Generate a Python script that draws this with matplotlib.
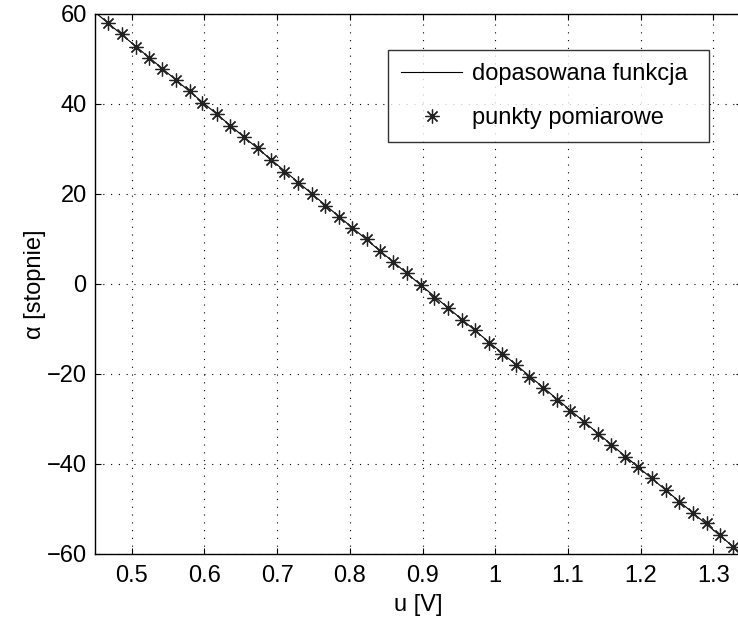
import matplotlib
matplotlib.use("Agg")
import matplotlib.pyplot as plt

plt.rcParams['font.family'] = ['Liberation Sans', 'DejaVu Sans']

# measured points: voltage u [V] and angle alpha [deg]
u_points = [0.4678, 0.4862, 0.5055, 0.5238, 0.5421, 0.5605, 0.5798, 0.5971,
            0.6173, 0.6352, 0.6549, 0.6733, 0.6912, 0.7099, 0.7292, 0.7476,
            0.7659, 0.7851, 0.8034, 0.8232, 0.8415, 0.8598, 0.8791, 0.8975,
            0.9158, 0.9351, 0.9539, 0.9727, 0.9911, 1.0089, 1.0282, 1.0469,
            1.0662, 1.0846, 1.1033, 1.1217, 1.1410, 1.1597, 1.1786, 1.1969,
            1.2157, 1.2345, 1.2532, 1.2717, 1.2909, 1.3092, 1.3275]
alpha_points = [57.9, 55.5, 52.7, 50.3, 47.8, 45.3, 42.8, 40.2,
                37.7, 35.1, 32.6, 30.2, 27.6, 24.8, 22.4, 19.9,
                17.3, 14.9, 12.4, 9.9, 7.3, 5.0, 2.4, -0.2,
                -3.0, -5.4, -7.9, -10.3, -13.0, -15.6, -18.1, -20.7,
                -23.2, -25.8, -28.2, -30.7, -33.3, -35.8, -38.4, -40.7,
                -43.1, -45.8, -48.4, -50.8, -53.2, -55.8, -58.4]

# fitted straight line (end points)
fit_u = [0.4495, 1.3393]
fit_alpha = [60.4, -60.0]

x_ticks = [0.5, 0.6, 0.7, 0.8, 0.9, 1.0, 1.1, 1.2, 1.3]
x_tick_labels = ['0.5', '0.6', '0.7', '0.8', '0.9', '1', '1.1', '1.2', '1.3']
y_ticks = [-60, -40, -20, 0, 20, 40, 60]

FS = 17

fig = plt.figure(figsize=(7.38, 6.19), dpi=100)
ax = fig.add_axes([95 / 738, 65 / 619, 647 / 738, 540 / 619])

ax.plot(fit_u, fit_alpha, color='black', linewidth=0.8, label='dopasowana funkcja')
ax.plot(u_points, alpha_points, linestyle='none', marker=(8, 2, 0), markersize=10,
        markeredgewidth=0.9, color='#222222', label='punkty pomiarowe')

ax.set_xlim(fit_u[0], fit_u[1])
ax.set_ylim(-60, 60)
ax.set_xticks(x_ticks)
ax.set_xticklabels(x_tick_labels)
ax.set_yticks(y_ticks)
ax.yaxis.set_major_formatter(matplotlib.ticker.FuncFormatter(lambda v, p: f'{v:.0f}'.replace('-', '\u2212')))

ax.grid(True, color='black', linestyle=(0, (1, 6)), linewidth=0.8)
ax.tick_params(direction='in', length=4, width=0.8, top=True, right=True,
               labelsize=FS, pad=6)
ax.tick_params(axis='x', pad=8)
for s in ax.spines.values():
    s.set_linewidth(1.0)

ax.set_xlabel('u [V]', fontsize=FS)
ax.set_ylabel('\u03b1 [stopnie]', fontsize=FS)
ax.xaxis.set_label_coords(0.5, -0.075)
ax.yaxis.set_label_coords(-0.075, 0.5)

leg = ax.legend(loc='upper left', bbox_to_anchor=((388 - 95) / 647, 1 - 36 / 540,
                                                   (709 - 388) / 647, 0.0),
                mode='expand', fontsize=FS, frameon=True, fancybox=False,
                handlelength=2.6, handletextpad=0.4, borderpad=0.55,
                labelspacing=0.95, borderaxespad=0)
leg.get_frame().set_edgecolor('black')
leg.get_frame().set_linewidth(1.0)

fig.savefig('out.png', dpi=100)
